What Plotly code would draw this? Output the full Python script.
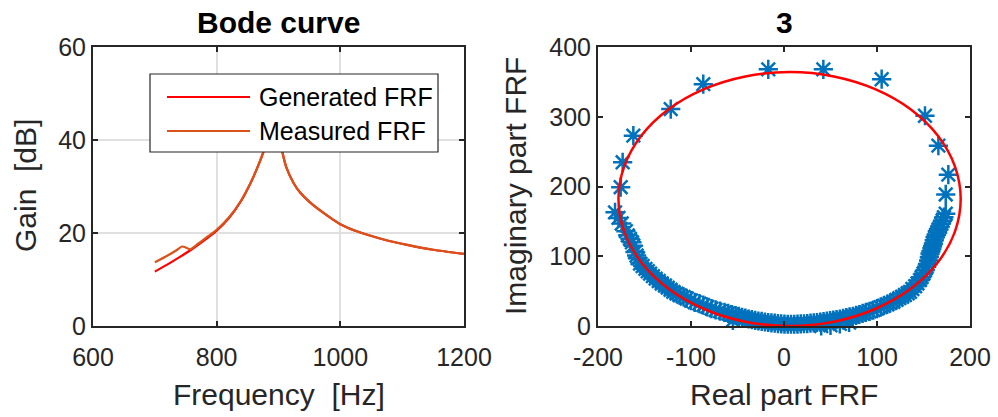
import plotly.graph_objects as go

# ---------------- data: Bode curve ----------------
gen_freq = [700, 720, 740, 760, 780, 800, 820, 840, 855, 865, 876, 884, 889, 892,
            895, 900, 906, 913, 925, 935, 950, 970, 1000, 1030, 1070, 1110, 1150, 1200]
gen_gain = [11.7, 13.2, 14.8, 16.5, 18.4, 20.5, 23.2, 27.0, 30.8, 33.8, 37.6, 42.0, 47.0, 50.0,
            47.0, 42.0, 37.6, 34.0, 30.6, 28.7, 26.7, 24.6, 21.9, 20.2, 18.6, 17.4, 16.4, 15.5]

meas_freq = [700, 720, 735, 744, 750, 757, 770, 785, 800, 820, 840, 855, 865, 876, 884, 889, 892,
             895, 900, 906, 913, 925, 935, 950, 970, 1000, 1030, 1070, 1110, 1150, 1200]
meas_gain = [13.7, 15.1, 16.3, 17.1, 16.9, 16.5, 17.7, 19.2, 20.7, 23.4, 27.1, 30.8, 33.8, 37.6, 42.0, 47.0, 50.0,
             47.0, 42.0, 37.6, 34.0, 30.6, 28.7, 26.7, 24.6, 21.9, 20.2, 18.6, 17.4, 16.4, 15.5]

# ---------------- data: Nyquist (measured points) ----------------
meas_re = [-181.7, -178, -174.5, -170, -168, -165.6, -163.5, -162, -160.2, -158.5, -157, -154.8, -152,
           -149, -146.5, -144, -141, -138, -134.7, -131.5, -128, -125, -122, -119, -115.5, -112,
           -108, -104.6, -100, -96, -91, -86.8, -82.5, -78, -73.5, -68.8, -64, -60, -56, -52, -48.5,
           -45, -41.5, -38, -34.5, -31, -27.5, -24, -20.5, -17, -13.5, -10, -6.5, -3, 0.5, 4, 7.5,
           11, 14.5, 18, 21.5, 25, 28.5, 32, 35.5, 39, 42.5, 46, 49.5, 53, 56.5, 60, 63.5, 67, 70.5,
           74, 77.5, 81, 84.5, 88, 92, 96, 100, 104, 107.5, 111, 114, 117.5, 121, 124, 127, 130, 133,
           135.5, 138, 141, 143.5, 146.2, 148, 150, 151.7, 153.4, 154.5, 155.5, 156.3, 157, 158, 159,
           159.8, 160.6, 161.5, 162.4, 163.7, 165, 166.3, 167.7, 169, 170.5, 172, 173.9,
           173.9, 176.7, 166, 151.6, 105, 42.3, -16.9, -86.8, -121.8, -162, -173.5, -175.6,
           -40, -30, -20, -10, 0, 10, 20, 30, 40, 50, 60, -55, 70]
meas_im = [163, 155, 147, 136, 130, 125, 120, 115, 106, 101, 97, 89.5, 86,
           82, 78.5, 75, 71.5, 68, 64.5, 61, 58, 55, 52, 49, 46.5, 44,
           41.7, 39.5, 36.5, 34, 32, 30, 27.5, 25, 23, 21.4, 19.5, 18, 16.5, 15, 13.7,
           12.5, 11.2, 10, 9, 8, 7.2, 6.5, 5.7, 5, 4.5, 4, 3.5, 3, 2.7, 2.5, 2.5,
           2.5, 2.7, 3, 3.2, 3.5, 4, 4.5, 5, 5.5, 6.2, 7, 7.7, 8.5, 9.2, 10, 11, 12, 13,
           14, 15.2, 16.5, 18, 19.5, 21, 22.9, 25, 27, 29, 31, 33, 34.8, 37.5, 40, 42, 44.5, 47,
           49, 53, 57, 61, 65.7, 70, 75, 80, 84.8, 89, 94, 99, 103.8, 107, 111,
           114.5, 118, 123, 127.6, 131, 135, 138.5, 141.9, 146.5, 151, 156, 161,
           188.6, 217, 258.6, 301.4, 353.8, 368, 368, 346.7, 311, 272.9, 234.7, 199,
           -2, -3, -4, -4, -4, -3, -2, -1, 0, 1, 3, 8, 5]

# ---------------- data: Nyquist (fitted circle) ----------------
circle_re = [190, 183.7, 165.3, 136.1, 98, 53.6, 6, -41.6, -86, -124.1, -153.3, -171.7, -178,
             -171.7, -153.3, -124.1, -86, -41.6, 6, 53.6, 98, 136.1, 165.3, 183.7, 190]
circle_im = [182, 229.1, 273, 310.7, 339.6, 357.8, 364, 357.8, 339.6, 310.7, 273, 229.1, 182,
             134.9, 91, 53.3, 24.4, 6.2, 0, 6.2, 24.4, 53.3, 91, 134.9, 182]

bode_xticks = [600, 800, 1000, 1200]
bode_yticks = [0, 20, 40, 60]
nyq_xticks = [-200, -100, 0, 100, 200]
nyq_xtext = ["-200", "-100", "0", "100", "200"]
nyq_yticks = [0, 100, 200, 300, 400]

RED = "#FF0000"
ORANGE = "#D95319"
BLUE = "#0072BD"
AX = "#262626"
FONT = "Liberation Sans, Arial, Helvetica, sans-serif"

W, H = 998, 417

def px_x(p):
    return p / W

def px_y(p):
    return 1 - p / H

fig = go.Figure()

fig.add_trace(go.Scatter(x=gen_freq, y=gen_gain, mode="lines", name="Generated FRF",
                         line=dict(color=RED, width=2.2, shape="spline", smoothing=0.7),
                         xaxis="x", yaxis="y", showlegend=False))
fig.add_trace(go.Scatter(x=meas_freq, y=meas_gain, mode="lines", name="Measured FRF",
                         line=dict(color=ORANGE, width=2.2, shape="spline", smoothing=0.7),
                         xaxis="x", yaxis="y", showlegend=False))

fig.add_trace(go.Scatter(x=meas_re, y=meas_im, mode="markers", name="Measured",
                         marker=dict(symbol="asterisk-open", size=16, color=BLUE,
                                     line=dict(color=BLUE, width=2.5)),
                         cliponaxis=False, xaxis="x2", yaxis="y2", showlegend=False))
fig.add_trace(go.Scatter(x=circle_re, y=circle_im, mode="lines", name="Fitted",
                         line=dict(color=RED, width=2.5, shape="spline", smoothing=1.0),
                         cliponaxis=False, xaxis="x2", yaxis="y2", showlegend=False))

ydom = [px_y(326), px_y(47)]
common = dict(showline=True, linecolor=AX, linewidth=2, mirror="ticks", ticks="inside",
              ticklen=5, tickwidth=1.5, tickcolor=AX, zeroline=False, automargin=False,
              tickfont=dict(family=FONT, size=25, color=AX))

fig.update_layout(
    template="none",
    width=W, height=H, margin=dict(l=0, r=0, t=0, b=0, pad=0, autoexpand=False),
    paper_bgcolor="white", plot_bgcolor="white", showlegend=False,
    xaxis=dict(domain=[px_x(93), px_x(464)], range=[600, 1200], tickvals=bode_xticks,
               ticklabelstandoff=8,
               showgrid=True, gridcolor="#E0E0E0", gridwidth=2, anchor="y", **common),
    yaxis=dict(domain=ydom, range=[0, 60], tickvals=bode_yticks,
               showgrid=True, gridcolor="#E0E0E0", gridwidth=2, anchor="x", **common),
    xaxis2=dict(domain=[px_x(598), px_x(970)], range=[-200, 200], tickvals=nyq_xticks,
                ticktext=nyq_xtext, ticklabelstandoff=8, showgrid=False, anchor="y2", **common),
    yaxis2=dict(domain=ydom, range=[0, 400], tickvals=nyq_yticks,
                showgrid=False, anchor="x2", **common),
)

ann = []
def text(x, y, s, size, color=AX, angle=0, bold=False, xanchor="center"):
    ann.append(dict(x=px_x(x), y=px_y(y), xref="paper", yref="paper", text=s,
                    showarrow=False, textangle=angle, xanchor=xanchor, yanchor="middle",
                    font=dict(family=FONT, size=size, color=color,
                              weight="bold" if bold else "normal")))

text(278.5, 22, "Bode curve", 30, color="#000000", bold=True)
text(784, 22, "3", 30, color="#000000", bold=True)
text(278.5, 394, "Frequency  [Hz]", 30)
text(784, 394, "Real part FRF", 30)
text(25, 186, "Gain  [dB]", 30, angle=-90)
text(515, 186, "Imaginary part FRF", 30, angle=-90)
# legend (drawn manually to match long line samples)
text(257, 97, "Generated FRF", 25, color="#000000", xanchor="left")
text(257, 131, "Measured FRF", 25, color="#000000", xanchor="left")
fig.update_layout(annotations=ann)

shapes = [
    dict(type="rect", xref="paper", yref="paper", x0=px_x(150), x1=px_x(438),
         y0=px_y(152), y1=px_y(74), line=dict(color=AX, width=1.2), fillcolor="white", layer="above"),
    dict(type="line", xref="paper", yref="paper", x0=px_x(167), x1=px_x(250),
         y0=px_y(97), y1=px_y(97), line=dict(color=RED, width=2.2), layer="above"),
    dict(type="line", xref="paper", yref="paper", x0=px_x(167), x1=px_x(250),
         y0=px_y(131), y1=px_y(131), line=dict(color=ORANGE, width=2.2), layer="above"),
]
fig.update_layout(shapes=shapes)

fig.write_html("out.html")
